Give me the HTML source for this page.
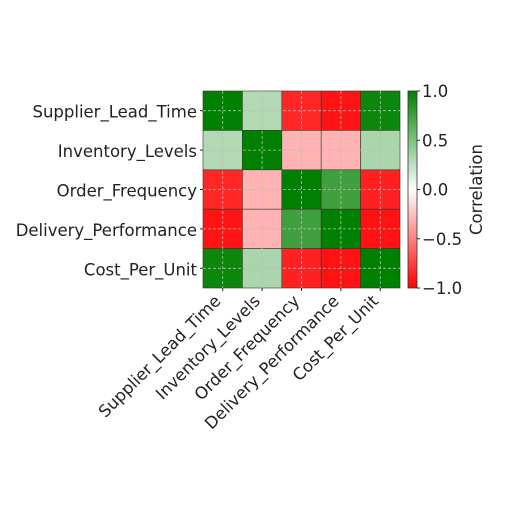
<!DOCTYPE html>
<html><head><meta charset="utf-8"><style>
body{margin:0;background:#fff}
text{font-family:"DejaVu Sans","Liberation Sans",sans-serif;fill:#222}
</style></head><body>
<svg id="c" width="512" height="512" xmlns="http://www.w3.org/2000/svg"></svg>
<script>
const labels=["Supplier_Lead_Time","Inventory_Levels","Order_Frequency","Delivery_Performance","Cost_Per_Unit"];
const row0=[1,0.3,-0.85,-0.92,0.95];
const row1=[0.3,1,-0.3,-0.3,0.33];
const row2=[-0.85,-0.3,1,0.75,-0.87];
const row3=[-0.92,-0.3,0.75,1,-0.93];
const row4=[0.95,0.33,-0.87,-0.93,1];
const matrix=[row0,row1,row2,row3,row4];
const cbTicks=[1,0.5,0,-0.5,-1];
const cbTickLabels=["1.0","0.5","0.0","−0.5","−1.0"];
const svg=document.getElementById('c');
const NS="http://www.w3.org/2000/svg";
const X0=203,Y0=91,W=197,H=197,n=labels.length,cw=W/n,ch=H/n;
const FS=16.5;
const cx=i=>X0+i*cw, cy=j=>Y0+j*ch;
function color(v){
  if(v<0){const t=-v;return `rgb(255,${Math.round(255*(1-t))},${Math.round(255*(1-t))})`;}
  return `rgb(${Math.round(255*(1-v))},${Math.round(255-127*v)},${Math.round(255*(1-v))})`;
}
function mk(tag,attrs,name,txt){const e=document.createElementNS(NS,tag);for(const k in attrs)e.setAttribute(k,attrs[k]);


if(txt!==undefined)e.textContent=txt;svg.appendChild(e);return e;}
matrix.forEach((row,j)=>row.forEach((v,i)=>{
  mk('rect',{x:cx(i),y:cy(j),width:cw,height:ch,fill:color(v),stroke:'#333','stroke-width':0.6},'heatmap-cell');
}));
for(let i=0;i<n;i++){
  const p=cx(i)+cw/2, q=cy(i)+ch/2;
  mk('line',{x1:p,x2:p,y1:Y0,y2:Y0+H,stroke:'#bbb','stroke-width':0.8,'stroke-dasharray':'3,2'},'grid-line-x');
  mk('line',{x1:X0,x2:X0+W,y1:q,y2:q,stroke:'#bbb','stroke-width':0.8,'stroke-dasharray':'3,2'},'grid-line-y');
  mk('line',{x1:X0-3,x2:X0,y1:q,y2:q,stroke:'#222'},'y-tick');
  mk('line',{x1:p,x2:p,y1:Y0+H,y2:Y0+H+3,stroke:'#222'},'x-tick');
  mk('text',{x:X0-6,y:q+7,'text-anchor':'end','font-size':FS},'y-tick-label',labels[i]);
  mk('text',{x:p-1,y:Y0+H+14,'text-anchor':'end','font-size':FS,transform:`rotate(-45 ${p-1} ${Y0+H+14})`},'x-tick-label',labels[i]);
}
const defs=mk('defs',{},'defs');
const g=document.createElementNS(NS,'linearGradient');g.setAttribute('id','cg');g.setAttribute('x1',0);g.setAttribute('x2',0);g.setAttribute('y1',0);g.setAttribute('y2',1);defs.appendChild(g);
[[0,color(1)],[0.5,color(0)],[1,color(-1)]].forEach(([o,c])=>{const s=document.createElementNS(NS,'stop');s.setAttribute('offset',o);s.setAttribute('stop-color',c);g.appendChild(s);});
const CX=408,CW=9;
mk('rect',{x:CX,y:Y0,width:CW,height:H,fill:'url(#cg)',stroke:'#333','stroke-width':0.8},'colorbar');
const cby=v=>Y0+(1-v)/2*H;
cbTicks.forEach((v,k)=>{
  mk('line',{x1:CX+CW,x2:CX+CW+3,y1:cby(v),y2:cby(v),stroke:'#222'},'colorbar-tick');
  mk('text',{x:CX+CW+5,y:cby(v)+6,'font-size':FS},'colorbar-tick-label',cbTickLabels[k]);
});
mk('text',{x:482,y:Y0+H/2,'text-anchor':'middle','font-size':FS,transform:`rotate(-90 482 ${Y0+H/2})`},'colorbar-title','Correlation');
</script>
</body></html>
